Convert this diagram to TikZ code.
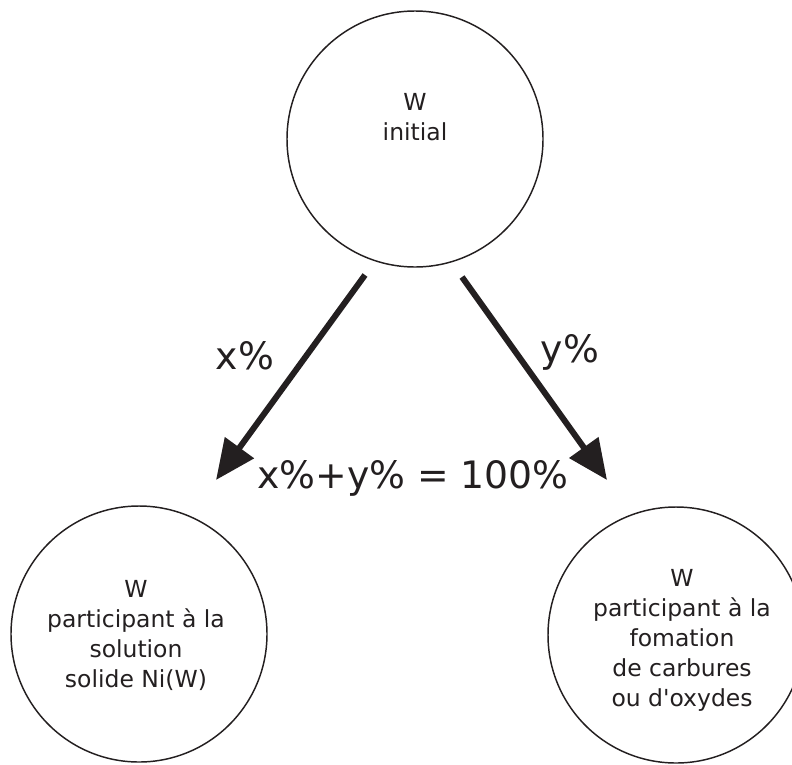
\documentclass[tikz,border=0pt]{standalone}
\usepackage{fontspec}
\setmainfont{DejaVu Sans}[Ligatures=TeXOff]
\usetikzlibrary{arrows.meta}

\begin{document}
\begin{tikzpicture}[x=0.75pt,y=0.75pt,yscale=-1,xscale=1]
			%set diagram left start at 0, size 792 x 764
			\path[use as bounding box] (0,0) rectangle (792,764);
			\clip (0,0) rectangle (792,764);

			\tikzset{
				bubble/.style={circle, draw={rgb, 255:red, 35; green, 31; blue, 32}, line width=1.1pt, minimum size=192pt, inner sep=0pt},
				bubbletext/.style={align=center, inner sep=0.75pt, font=\fontsize{17.6}{22.5}\selectfont, text={rgb, 255:red, 35; green, 31; blue, 32}},
				flow/.style={draw={rgb, 255:red, 35; green, 31; blue, 32}, line width=4.5pt, -{Triangle[length=30pt,width=26pt]}},
				share/.style={inner sep=0.75pt, font=\fontsize{28.3}{34}\selectfont, text={rgb, 255:red, 35; green, 31; blue, 32}}
			}

			%Shape: Circle [W initial]
			\node [bubble] (winit) at (415,139) {};
			%Shape: Circle [solution solide]
			\node [bubble] (wsol) at (139,634) {};
			%Shape: Circle [carbures / oxydes]
			\node [bubble] (wcarb) at (676,635) {};

			% Arrow ends
			\coordinate (xstart) at (365,275);
			\coordinate (xend) at (216,480);
			\coordinate (ystart) at (462,277);
			\coordinate (yend) at (607,480);

			%Straight Lines [x%]
			\draw [flow] (xstart) -- (xend);
			%Straight Lines [y%]
			\draw [flow] (ystart) -- (yend);

			% Text Node
			\node [bubbletext] (winittxt) at (415,117) {W\\initial};
			% Text Node
			\node [bubbletext] (wsoltxt) at (136,635) {W\\participant à la\\solution\\solide Ni(W)};
			% Text Node
			\node [bubbletext] (wcarbtxt) at (682,640) {W\\participant à la\\fomation\\de carbures\\ou d'oxydes};
			% Text Node
			\node [share] (xlabel) at (245,356) {x\%};
			% Text Node
			\node [share] (ylabel) at (570,352) {y\%};
			% Text Node
			\node [share] (total) at (413,478) {x\%+y\% = 100\%};

		\end{tikzpicture}
\end{document}
